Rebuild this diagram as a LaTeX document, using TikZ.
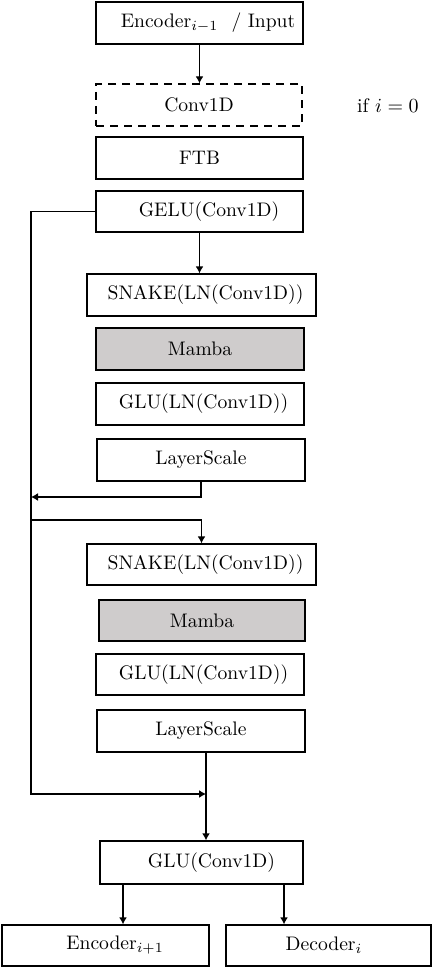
\documentclass[tikz,border=0pt]{standalone}
\usetikzlibrary{arrows.meta,calc}
\definecolor{mambagray}{RGB}{207,204,204}
\begin{document}
\begin{tikzpicture}[x=0.5pt,y=-0.5pt,line width=0.65pt,
  blk/.style={draw=black,line width=0.65pt,inner sep=0pt,font=\fontsize{9.8}{12}\selectfont},
  grayblk/.style={blk,fill=mambagray},
  arr/.style={-{Latex[length=3.5pt,width=4pt]}},
  lbl/.style={inner sep=0pt,font=\fontsize{9.8}{12}\selectfont}]
\useasboundingbox (0,0) rectangle (434,968);
\node[blk,minimum width=103.5pt,minimum height=21pt] (enc) at (199.5,23) {\hspace*{8.5pt}Encoder$_{i-1}$~~/ Input};
\node[blk,dashed,dash pattern=on 4pt off 3pt,minimum width=103pt,minimum height=21pt] (conv) at (199,105) {Conv1D};
\node[lbl] (cond) at (388,106) {if $i = 0$};
\node[blk,minimum width=103.5pt,minimum height=21pt] (ftb) at (199.5,158) {FTB};
\node[blk,minimum width=103.5pt,minimum height=20.5pt] (gelu) at (199.5,211.5) {\hspace*{9.5pt}GELU(Conv1D)};
\node[blk,minimum width=114.5pt,minimum height=21pt] (snake1) at (201.5,295) {\hspace*{4pt}SNAKE(LN(Conv1D))};
\node[grayblk,minimum width=104pt,minimum height=21pt] (mamba1) at (200,349) {Mamba};
\node[blk,minimum width=104pt,minimum height=21pt] (glu1) at (200,404) {\hspace*{3.5pt}GLU(LN(Conv1D))};
\node[blk,minimum width=104pt,minimum height=21pt] (ls1) at (201,460) {LayerScale};
\node[blk,minimum width=114.5pt,minimum height=20.5pt] (snake2) at (201.5,564.5) {\hspace*{4pt}SNAKE(LN(Conv1D))};
\node[grayblk,minimum width=103pt,minimum height=20.5pt] (mamba2) at (202,620.5) {Mamba};
\node[blk,minimum width=104pt,minimum height=20.5pt] (glu2) at (200,674.5) {\hspace*{3.5pt}GLU(LN(Conv1D))};
\node[blk,minimum width=104pt,minimum height=21pt] (ls2) at (201,731) {LayerScale};
\node[blk,minimum width=101.5pt,minimum height=21.5pt] (gluc) at (201.5,862.5) {\hspace*{10pt}GLU(Conv1D)};
\node[blk,minimum width=103.5pt,minimum height=20.5pt] (encn) at (105.5,945.5) {\hspace*{9.5pt}Encoder$_{i+1}$};
\node[blk,minimum width=102.5pt,minimum height=20.5pt] (dec) at (328.5,945.5) {Decoder$_i$\hspace*{4.5pt}};
% coordinates
\coordinate (lt) at (31,211.5);
\coordinate (lb) at (31,794);
\coordinate (m1) at (31,497);
\coordinate (m2) at (31,520);
\coordinate (jB) at (206,794);
% connectors
\draw[arr] (enc.south) -- (enc.south |- conv.north);
\draw[arr] (gelu.south) -- (gelu.south |- snake1.north);
\draw[arr] (gelu.west) -- (lt) -- (lb) -- (jB);
\draw[arr] (ls1.south) |- (m1);
\draw[arr] (m2) -| (snake2.north);
\draw[arr,line width=1pt] (ls2.south -| jB) -- (jB) -- (gluc.north -| jB);
\draw[arr] ($(gluc.south)+(-78.5,0)$) coordinate (g1) -- (g1 |- encn.north);
\draw[arr] ($(gluc.south)+(82.5,0)$) coordinate (g2) -- (g2 |- dec.north);
\end{tikzpicture}
\end{document}
